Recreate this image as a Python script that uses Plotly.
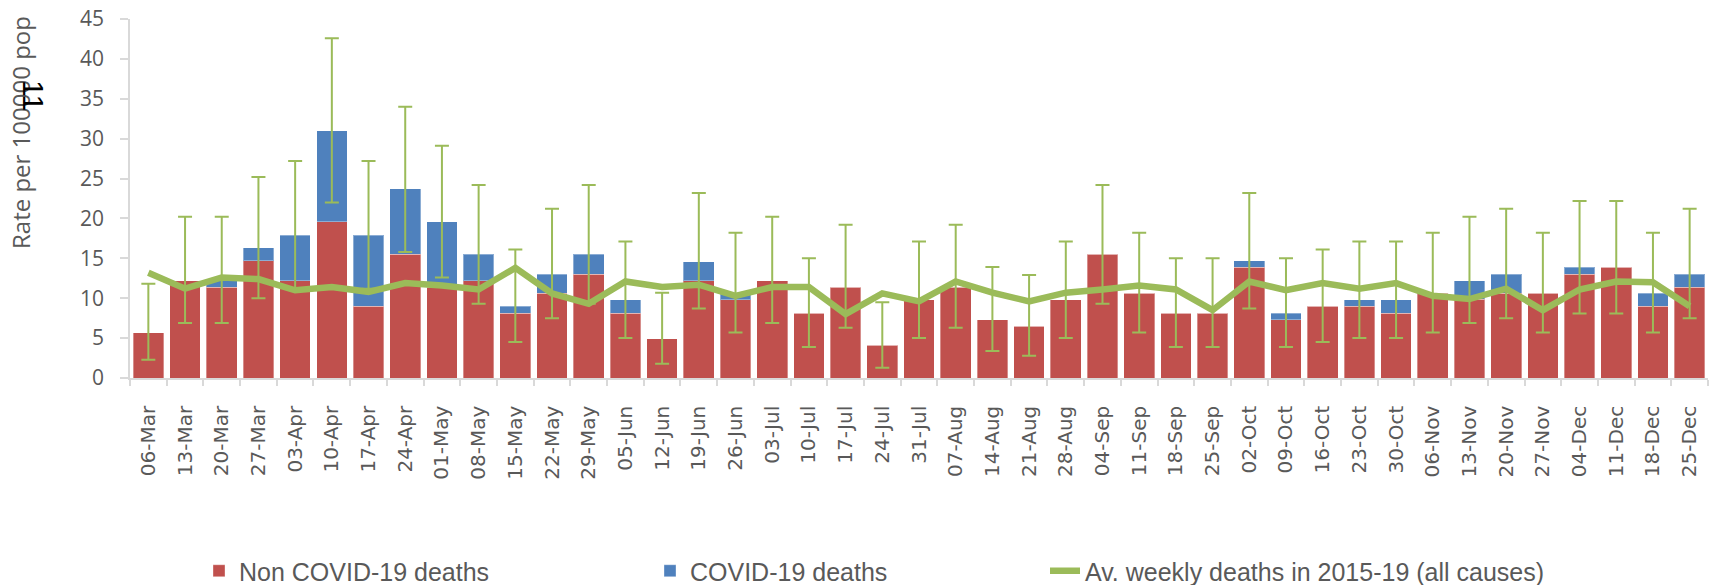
import plotly.graph_objects as go

weeks = ["06-Mar","13-Mar","20-Mar","27-Mar","03-Apr","10-Apr","17-Apr","24-Apr","01-May","08-May",
         "15-May","22-May","29-May","05-Jun","12-Jun","19-Jun","26-Jun","03-Jul","10-Jul","17-Jul",
         "24-Jul","31-Jul","07-Aug","14-Aug","21-Aug","28-Aug","04-Sep","11-Sep","18-Sep","25-Sep",
         "02-Oct","09-Oct","16-Oct","23-Oct","30-Oct","06-Nov","13-Nov","20-Nov","27-Nov","04-Dec",
         "11-Dec","18-Dec","25-Dec"]

non_covid = [5.7, 12.2, 11.4, 14.7, 12.2, 19.6, 9.0, 15.5, 11.4, 12.2,
             8.1, 10.6, 13.0, 8.1, 4.9, 12.2, 9.8, 12.2, 8.1, 11.4,
             4.1, 9.8, 11.4, 7.3, 6.5, 9.8, 15.5, 10.6, 8.1, 8.1,
             13.9, 7.3, 9.0, 9.0, 8.1, 10.6, 9.9, 10.6, 10.6, 13.0,
             13.9, 9.0, 11.4]

covid = [0.0, 0.0, 0.8, 1.6, 5.7, 11.4, 8.9, 8.2, 8.2, 3.3,
         0.9, 2.4, 2.5, 1.7, 0.0, 2.4, 0.7, 0.0, 0.0, 0.0,
         0.0, 0.0, 0.0, 0.0, 0.0, 0.0, 0.0, 0.0, 0.0, 0.0,
         0.8, 0.8, 0.0, 0.8, 1.7, 0.0, 2.3, 2.4, 0.0, 0.9,
         0.0, 1.6, 1.6]

avg_2015_19 = [13.2, 11.2, 12.6, 12.4, 11.0, 11.4, 10.8, 11.9, 11.6, 11.1,
               13.8, 10.6, 9.3, 12.1, 11.4, 11.7, 10.3, 11.4, 11.4, 8.0,
               10.6, 9.6, 12.1, 10.7, 9.6, 10.7, 11.1, 11.6, 11.1, 8.5,
               12.1, 11.0, 11.9, 11.2, 11.9, 10.3, 9.9, 11.2, 8.5, 11.1,
               12.1, 12.0, 9.0]

ci_low = [2.3, 6.9, 6.9, 10.0, 11.2, 22.0, 11.2, 15.8, 12.6, 9.3,
          4.5, 7.5, 9.3, 5.0, 1.8, 8.7, 5.7, 6.9, 3.9, 6.3,
          1.3, 5.0, 6.3, 3.4, 2.8, 5.0, 9.3, 5.7, 3.9, 3.9,
          8.7, 3.9, 4.5, 5.0, 5.0, 5.7, 6.9, 7.5, 5.7, 8.1,
          8.1, 5.7, 7.5]

ci_high = [11.8, 20.2, 20.2, 25.2, 27.2, 42.6, 27.2, 34.0, 29.1, 24.2,
           16.1, 21.2, 24.2, 17.1, 10.7, 23.2, 18.2, 20.2, 15.0, 19.2,
           9.5, 17.1, 19.2, 13.9, 12.9, 17.1, 24.2, 18.2, 15.0, 15.0,
           23.2, 15.0, 16.1, 17.1, 17.1, 18.2, 20.2, 21.2, 18.2, 22.2,
           22.2, 18.2, 21.2]

y_ticks = [0, 5, 10, 15, 20, 25, 30, 35, 40, 45]

RED = "#C0504D"
BLUE = "#4F81BD"
GREEN = "#9BBB59"
GREY_TXT = "#595959"
AXIS = "#D9D9D9"

total = [a + b for a, b in zip(non_covid, covid)]
err_plus = [h - t for h, t in zip(ci_high, total)]
err_minus = [t - l for l, t in zip(ci_low, total)]

W, H = 1712, 585
ML, MR, MT, MB = 130, 4, 19, 207
PW = W - ML - MR
PH = H - MT - MB


def px_x(p):
    return (p - ML) / PW


def px_y(p):
    return (H - MB - p) / PH


fig = go.Figure()

fig.add_trace(go.Bar(
    x=weeks, y=non_covid, name="Non COVID-19 deaths",
    marker=dict(color=RED, line=dict(color="rgba(255,255,255,0.35)", width=1)),
    legend="legend",
))
fig.add_trace(go.Bar(
    x=weeks, y=covid, name="COVID-19 deaths",
    marker=dict(color=BLUE, line=dict(color="rgba(255,255,255,0.35)", width=1)),
    legend="legend2",
))
fig.add_trace(go.Scatter(
    x=weeks, y=total, mode="markers",
    marker=dict(size=1, color="rgba(0,0,0,0)"),
    error_y=dict(type="data", symmetric=False, array=err_plus, arrayminus=err_minus,
                 color=GREEN, thickness=2, width=7),
    showlegend=False, hoverinfo="skip",
))
fig.add_trace(go.Scatter(
    x=weeks, y=avg_2015_19, mode="lines",
    name="Av. weekly deaths in 2015-19 (all causes)",
    line=dict(color=GREEN, width=6.5),
    legend="legend3",
))

leg_common = dict(orientation="h", yanchor="middle", xanchor="left",
                  xref="container", yref="container", y=1 - 571 / H,
                  font=dict(family="Arial", size=25, color=GREY_TXT),
                  bgcolor="rgba(0,0,0,0)", borderwidth=0)

fig.update_layout(
    width=W, height=H,
    margin=dict(l=ML, r=MR, t=MT, b=MB, autoexpand=False),
    paper_bgcolor="white", plot_bgcolor="white",
    barmode="stack", bargap=0.164,
    legend=dict(x=199 / W, **leg_common),
    legend2=dict(x=650 / W, **leg_common),
    legend3=dict(x=1045 / W, **leg_common),
    xaxis=dict(
        type="category", range=[-0.5, len(weeks) - 0.5], tickangle=-90, tickson="boundaries",
        ticks="outside", ticklen=6, tickcolor=AXIS, tickwidth=1.5,
        showline=True, linecolor=AXIS, linewidth=1.5, showgrid=False, automargin=False,
        tickfont=dict(family="DejaVu Sans", size=20, color=GREY_TXT),
        ticklabelstandoff=18,
    ),
    yaxis=dict(
        range=[0, 45], tickvals=y_ticks, showgrid=False, zeroline=False, automargin=False,
        ticks="outside", ticklen=8, tickcolor=AXIS, tickwidth=1.5,
        showline=True, linecolor=AXIS, linewidth=1.5,
        tickfont=dict(family="Open Sans", size=21, color=GREY_TXT),
        ticklabelstandoff=12,
    ),
    annotations=[
        dict(text="Rate per 100000 pop", textangle=-90, xref="paper", yref="paper",
             x=px_x(20), y=px_y(133), xanchor="center", yanchor="middle", showarrow=False,
             font=dict(family="Open Sans", size=24, color=GREY_TXT)),
        dict(text="11", textangle=90, xref="paper", yref="paper",
             x=px_x(34), y=px_y(95), xanchor="center", yanchor="middle", showarrow=False,
             font=dict(family="Arial", size=30, color="black")),
    ],
)

fig.write_html("out.html", config={"displayModeBar": False},
               post_script="document.body.style.margin='0px';")
